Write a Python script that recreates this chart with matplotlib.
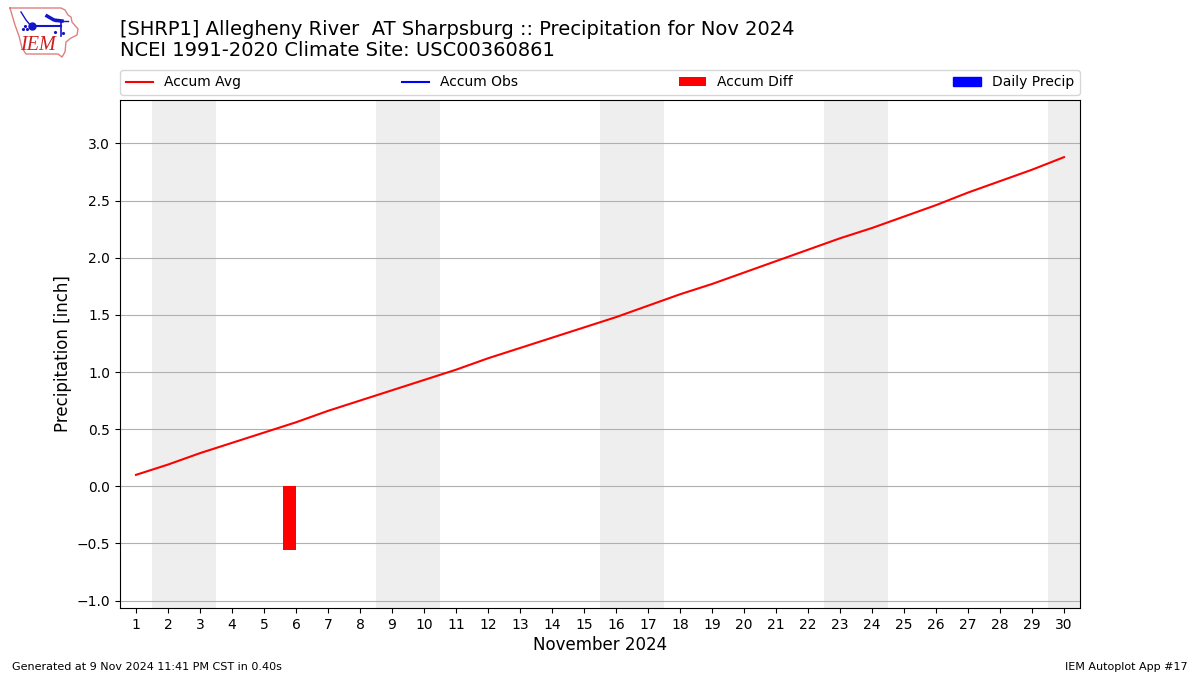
import matplotlib
matplotlib.use("Agg")
import matplotlib.pyplot as plt
from matplotlib.patches import Patch

days = list(range(1, 31))
accum_avg = [0.10, 0.19, 0.29, 0.38, 0.47, 0.56, 0.66, 0.75, 0.84, 0.93,
             1.02, 1.12, 1.21, 1.30, 1.39, 1.48, 1.58, 1.68, 1.77, 1.87,
             1.97, 2.07, 2.17, 2.26, 2.36, 2.46, 2.57, 2.67, 2.77, 2.88]
diff_days = [6]
accum_diff = [-0.56]
weekends = [(1.5, 3.5), (8.5, 10.5), (15.5, 17.5), (22.5, 24.5), (29.5, 30.5)]
yticks = [-1.0, -0.5, 0.0, 0.5, 1.0, 1.5, 2.0, 2.5, 3.0]

fig = plt.figure(figsize=(12, 6.75), dpi=100)
ax = fig.add_axes([120 / 1200, 1 - 608 / 675, 960 / 1200, 508 / 675])

for start, end in weekends:
    ax.axvspan(start, end, color="#EEEEEE", lw=0, zorder=0)

ax.plot(days, accum_avg, color="r", zorder=3, label="Accum Avg")
ax.plot([], [], color="b", label="Accum Obs")
ax.bar(diff_days, accum_diff, width=-0.4, align="edge", color="r", zorder=2, label="Accum Diff")

ax.set_xlim(0.5, 30.5)
ax.set_ylim(-1.065, 3.38)
ax.set_xticks(days)
ax.set_yticks(yticks)
ax.grid(axis="y", color="#b0b0b0", zorder=1)
ax.set_axisbelow(True)
ax.set_xlabel("November 2024", fontsize=12, labelpad=3)
ax.set_ylabel("Precipitation [inch]", fontsize=12, labelpad=3)

handles, labels = ax.get_legend_handles_labels()
handles.append(Patch(color="b"))
labels.append("Daily Precip")
ax.legend(handles, labels, loc="lower left", bbox_to_anchor=(0, 1 + 5 / 508, 1, 0.1), ncol=4, mode="expand",
          fontsize=10, borderaxespad=0, borderpad=0.4)

fig.text(120 / 1200, 1 - 29.5 / 675, "[SHRP1] Allegheny River  AT Sharpsburg :: Precipitation for Nov 2024",
         fontsize=14, va="center")
fig.text(120 / 1200, 1 - 51 / 675, "NCEI 1991-2020 Climate Site: USC00360861",
         fontsize=14, va="center")
fig.text(12 / 1200, 1 - 666.5 / 675, "Generated at 9 Nov 2024 11:41 PM CST in 0.40s", fontsize=8, va="center")
fig.text(1188 / 1200, 1 - 666.5 / 675, "IEM Autoplot App #17", fontsize=8, va="center", ha="right")

# rough version of the IEM logo, in pixel coords of a small box
logo = fig.add_axes([0, 1 - 60 / 675, 84 / 1200, 60 / 675])
logo.set_xlim(0, 84)
logo.set_ylim(60, 0)
logo.axis("off")
outline_x = [10, 61, 65, 68, 71, 72, 78, 77, 71, 66, 65, 62, 58, 26, 22, 19, 15, 10]
outline_y = [8, 8, 10, 15, 17, 22, 29, 35, 38, 42, 52, 57, 54, 54, 48, 36, 25, 8]
logo.plot(outline_x, outline_y, color="#e08080", lw=1)
logo.plot([31, 61], [26, 26], color="#1414c8", lw=1.5)
logo.plot([47, 54, 62], [16, 20, 21], color="#1414c8", lw=2.5)
logo.plot([55, 68], [21, 21], color="#1414c8", lw=1)
logo.plot([61, 61], [21, 36], color="#1414c8", lw=1.2)
logo.plot([21, 26, 31], [12, 20, 26], color="#1414c8", lw=1)
logo.plot([31.5], [26], "o", color="#1414c8", ms=5)
logo.plot([23, 25, 27], [29, 26, 29], ".", color="#1414c8", ms=2.5)
logo.plot([55, 63], [32, 33], ".", color="#1414c8", ms=2.5)
logo.text(20, 45.5, "IEM", color="#cc2020", fontsize=14.5, family="Liberation Serif", style="italic", va="center")

fig.savefig("out.png", dpi=100)
